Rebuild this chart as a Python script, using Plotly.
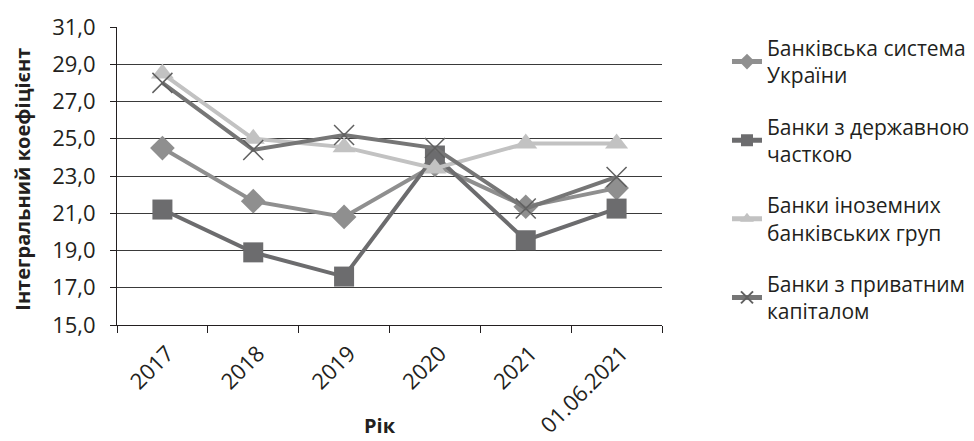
import plotly.graph_objects as go

categories = ["2017", "2018", "2019", "2020", "2021", "01.06.2021"]
bank_system = [24.5, 21.65, 20.8, 23.6, 21.35, 22.35]
state_banks = [21.2, 18.9, 17.6, 24.1, 19.55, 21.25]
foreign_banks = [28.5, 25.0, 24.55, 23.4, 24.75, 24.75]
private_banks = [28.0, 24.4, 25.2, 24.5, 21.25, 22.95]

names = [
    "Банківська система<br>України",
    "Банки з державною<br>часткою",
    "Банки іноземних<br>банківських груп",
    "Банки з приватним<br>капіталом",
]

FONT = "Open Sans"
TXT = "#231f20"

fig = go.Figure()
fig.add_trace(go.Scatter(
    x=categories, y=bank_system, name=names[0], mode="lines+markers",
    line=dict(color="#8f8f8f", width=4),
    marker=dict(symbol="diamond", size=19, color="#8f8f8f"),
    legendgroup="a",
))
fig.add_trace(go.Scatter(
    x=categories, y=state_banks, name=names[1], mode="lines+markers",
    line=dict(color="#6c6c6e", width=4),
    marker=dict(symbol="square", size=20, color="#6c6c6e"),
    legendgroup="b",
))
fig.add_trace(go.Scatter(
    x=categories, y=foreign_banks, name=names[2], mode="lines+markers",
    line=dict(color="#c2c2c2", width=4),
    marker=dict(symbol="triangle-up", size=20, color="#c2c2c2"),
    legendgroup="c",
))
fig.add_trace(go.Scatter(
    x=categories, y=private_banks, name=names[3], mode="lines+markers",
    line=dict(color="#767676", width=4),
    marker=dict(symbol="x-thin-open", size=20, color="#606060",
                line=dict(width=1.5, color="#606060")),
    legendgroup="d",
))

fig.update_layout(
    width=974, height=441,
    margin=dict(l=117, r=312, t=27, b=116, autoexpand=False),
    paper_bgcolor="white", plot_bgcolor="white",
    separators=", ",
    font=dict(family=FONT, size=21, color=TXT),
    showlegend=True,
    legend=dict(
        xref="container", yref="container",
        x=0.7464, xanchor="left", y=0.937, yanchor="top",
        font=dict(family=FONT, size=21, color=TXT),
        tracegroupgap=21, traceorder="grouped",
        itemsizing="constant", maxheight=1,
        bgcolor="rgba(0,0,0,0)",
    ),
    annotations=[
        dict(text="<b>Інтегральний коефіцієнт</b>", xref="paper", yref="paper",
             x=-0.174, y=0.488, xanchor="center", yanchor="middle",
             textangle=-90, showarrow=False,
             font=dict(family=FONT, size=20, color=TXT)),
        dict(text="<b>Рік</b>", xref="paper", yref="paper",
             x=(380 - 117) / 545, y=(325 - 425) / 298, xanchor="center", yanchor="middle",
             showarrow=False,
             font=dict(family=FONT, size=20, color=TXT)),
    ],
)

fig.update_xaxes(
    type="category", range=[-0.5, 5.5], automargin=False,
    tickangle=-45, ticks="outside", ticklen=7, tickcolor=TXT,
    tickson="boundaries", ticklabelstandoff=6, ticklabelshift=5,
    showline=True, linecolor=TXT, linewidth=1,
    showgrid=False,
    tickfont=dict(family=FONT, size=22, color=TXT),
)
fig.update_yaxes(
    range=[15, 31], dtick=2, tick0=15, tickformat=".1f", automargin=False,
    ticks="outside", ticklen=6, tickcolor=TXT,
    ticklabelstandoff=10,
    showline=True, linecolor=TXT, linewidth=1,
    showgrid=True, gridcolor="#3a3a3a", gridwidth=1,
    zeroline=False,
    tickfont=dict(family=FONT, size=22, color=TXT),
)

fig.write_html(
    "out.html",
    config={"displayModeBar": False},
    post_script="document.body.style.margin='0';document.body.style.padding='0';",
)
